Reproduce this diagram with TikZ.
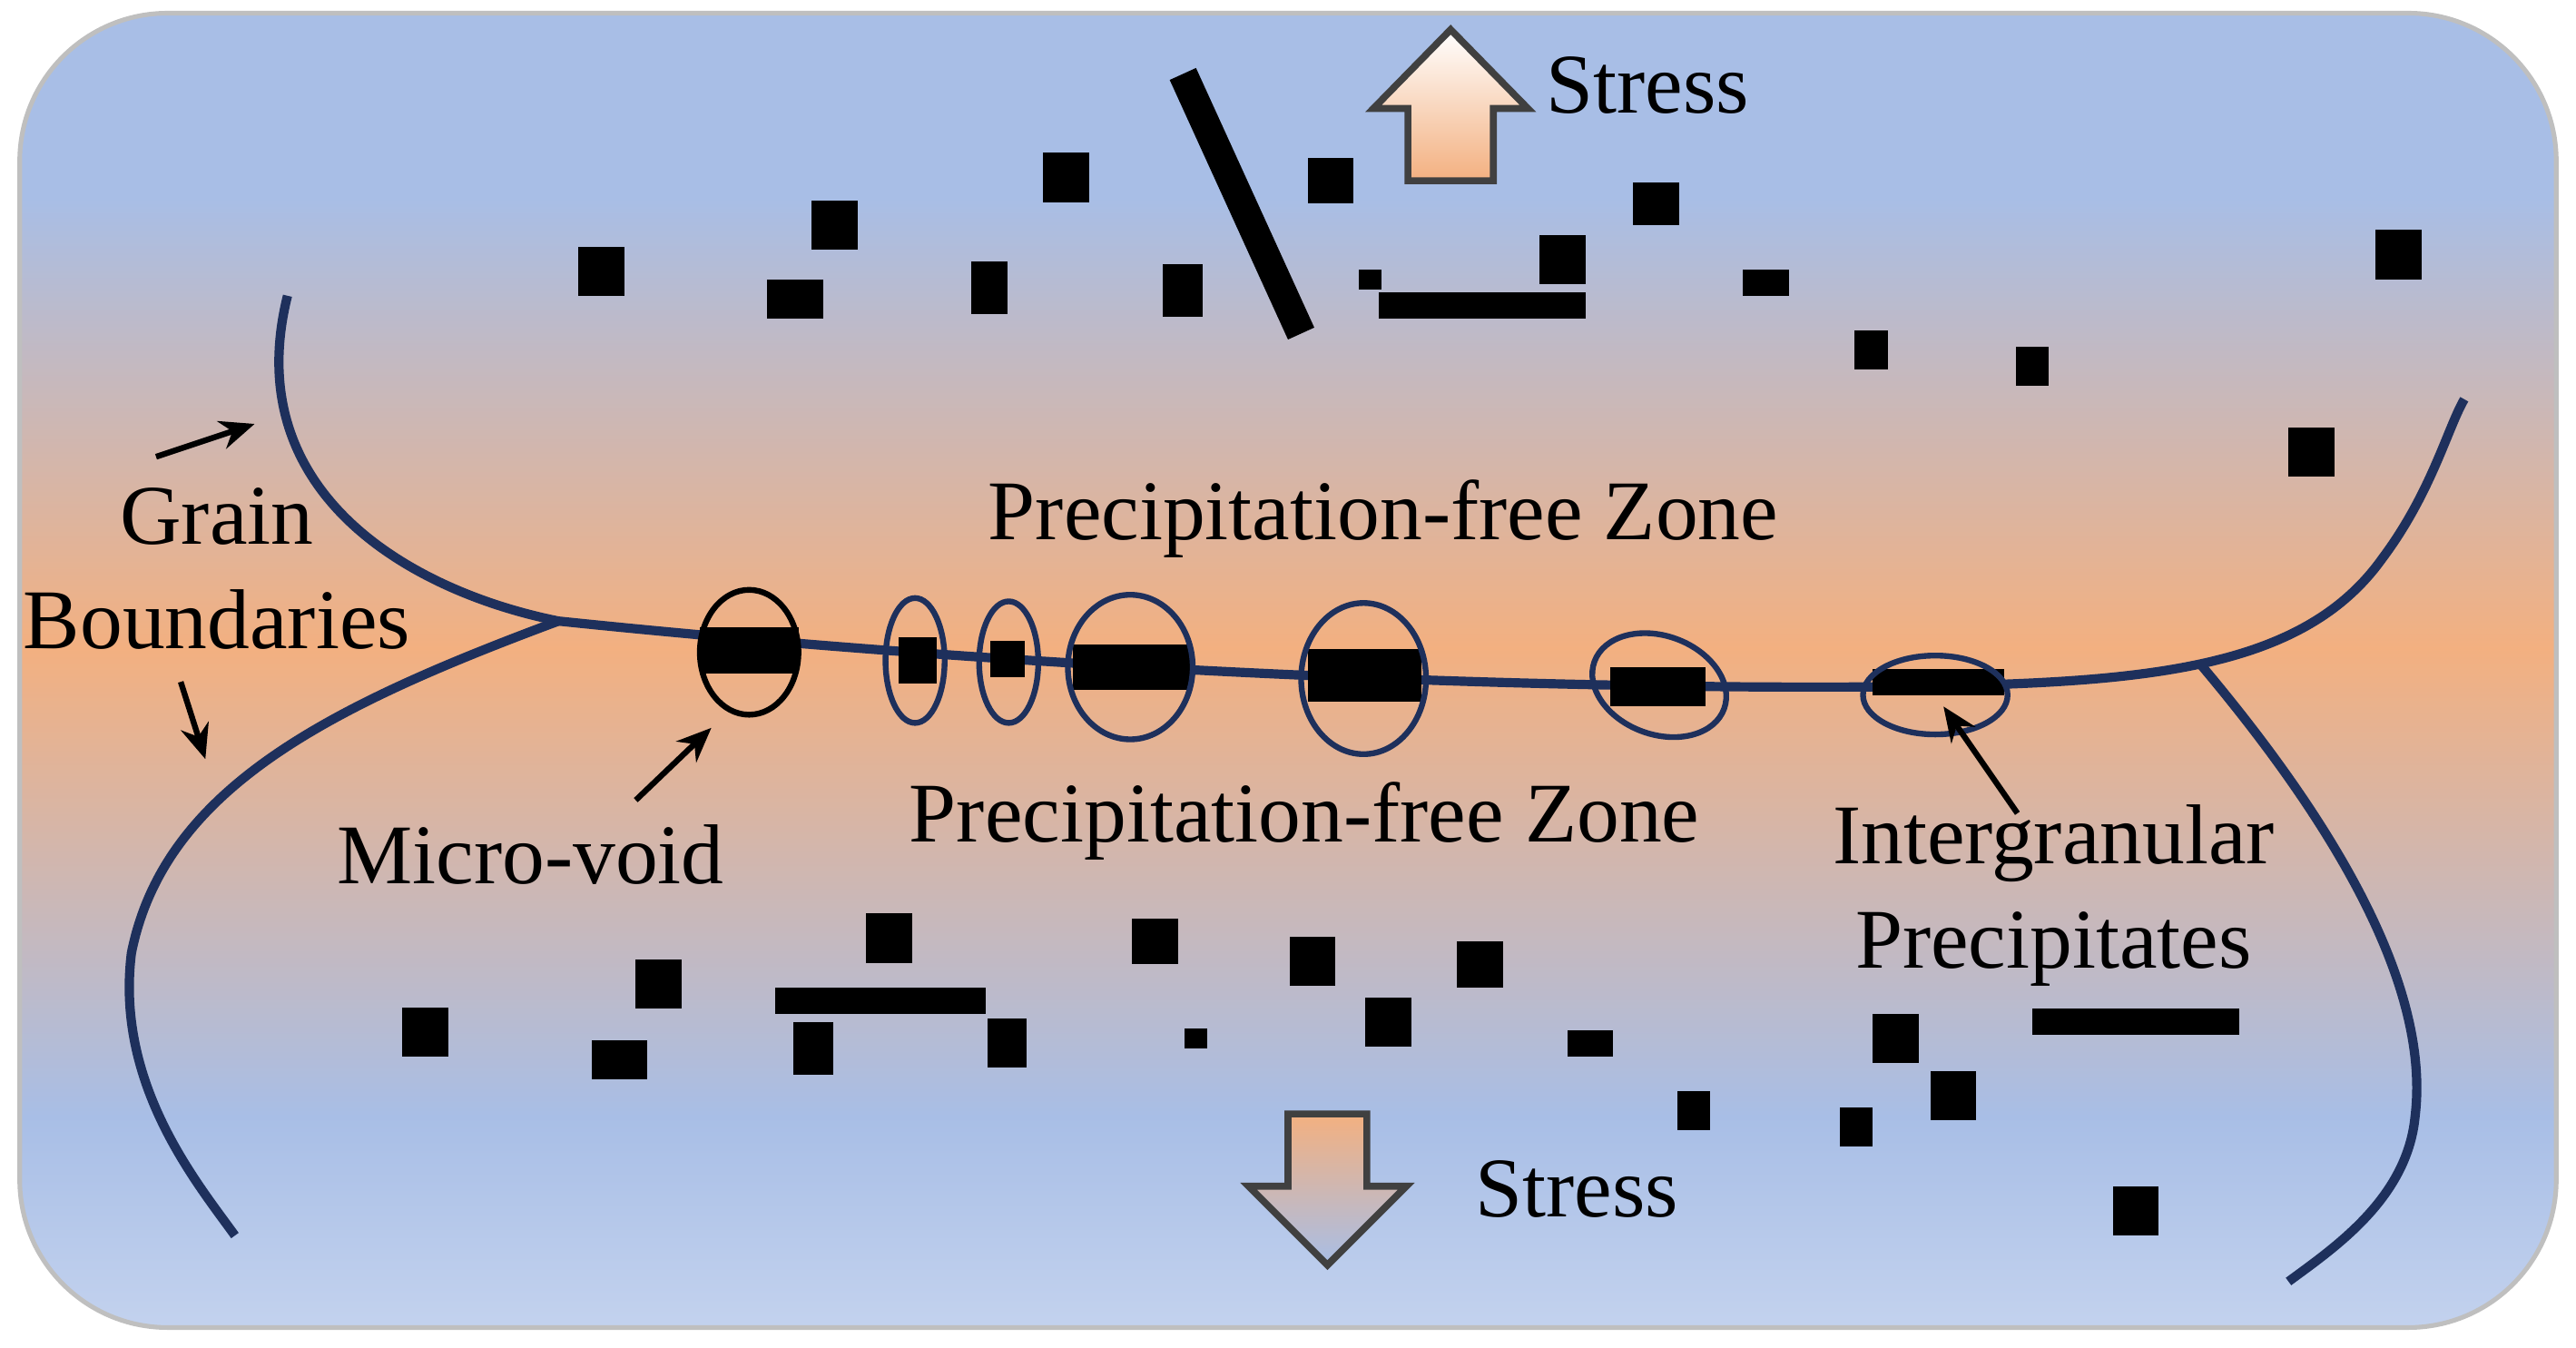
\documentclass[tikz,border=0pt]{standalone}
\usepackage{fontspec}
\setmainfont{Liberation Serif}
\usetikzlibrary{arrows.meta}
\definecolor{navy}{RGB}{30,48,92}
\definecolor{bluetop}{RGB}{168,190,230}
\definecolor{orng}{RGB}{243,176,128}
\definecolor{bluebot}{RGB}{195,210,238}
\begin{document}
\begin{tikzpicture}[x=0.01cm,y=-0.01cm,
 sq/.style={fill=black},
 gb/.style={draw=navy,line width=1.6pt},
 el/.style={draw=navy,line width=1pt},
 lab/.style={font=\fontsize{14.7}{18}\selectfont,align=center},
 pt/.style={-{Stealth[length=6pt,width=5pt]},line width=1pt}]
\useasboundingbox (0,0) rectangle (1568,820);
\begin{scope}
\clip[rounded corners=0.9cm] (12,8) rectangle (1556,808);
\shade[top color=bluetop,bottom color=orng] (12,120) rectangle (1556,395);
\fill[bluetop] (12,8) rectangle (1556,121);
\shade[top color=orng,bottom color=bluetop] (12,394) rectangle (1556,680);
\shade[top color=bluetop,bottom color=bluebot] (12,679) rectangle (1556,808);
\end{scope}
\draw[gray!50,line width=0.8pt,rounded corners=0.9cm] (12,8) rectangle (1556,808);
% grain boundaries
\coordinate (j1) at (340,378);
\coordinate (j2) at (1340,405);
\draw[gb] (175,180) .. controls (145,300) and (250,360) .. (j1)
 .. controls (600,405) and (900,420) .. (1150,418) .. controls (1300,416) and (1400,410) .. (1450,340) .. controls (1480,300) and (1490,260) .. (1500,243);
\draw[gb] (j1) .. controls (200,430) and (100,480) .. (80,580) .. controls (70,660) and (120,720) .. (143,752);
\draw[gb] (j2) .. controls (1420,500) and (1480,600) .. (1470,680) .. controls (1465,730) and (1420,760) .. (1393,780);
% slanted line
\draw[line width=5pt] (720,45) -- (792,203);
% squares
\foreach \x/\y/\w/\h in {366/165/28/30,508/137/28/30,484/182/34/24,602/175/22/32,649/108/28/30,720/177/24/32,810/110/28/28,834/170/14/12,951/158/28/30,902/186/126/16,1008/124/28/26,1075/172/28/16,1139/213/20/24,1237/223/20/24,1460/155/28/30,1407/275/28/30,
259/628/28/30,401/599/28/30,377/645/34/24,541/571/28/30,536/609/128/16,495/638/24/32,613/635/24/30,703/573/28/28,728/632/14/12,799/585/28/30,845/622/28/30,901/587/28/28,968/635/28/16,1031/676/20/24,1130/686/20/24,1154/632/28/30,1189/667/28/30,1300/622/126/16,1300/737/28/30}
 \fill[sq] (\x-\w/2,\y-\h/2) rectangle (\x+\w/2,\y+\h/2);
% precipitates with zones
\fill (426,382) rectangle (486,410);
\draw[line width=1pt] (456,397) ellipse [x radius=30,y radius=38];
\fill (547,388) rectangle (570,416);
\draw[el] (557,402) ellipse [x radius=18,y radius=38];
\fill (603,390) rectangle (624,412);
\draw[el] (614,403) ellipse [x radius=18,y radius=37];
\fill (653,392) rectangle (725,420);
\draw[el] (688,406) ellipse [x radius=38,y radius=44];
\fill (796,395) rectangle (865,427);
\draw[el] (830,413) ellipse [x radius=38,y radius=46];
\fill (980,406) rectangle (1038,430);
\draw[el,rotate around={-20:(1010,417)}] (1010,417) ellipse [x radius=42,y radius=30];
\fill (1140,407) rectangle (1220,423);
\draw[el] (1178,423) ellipse [x radius=44,y radius=24];
% stress arrows
\draw[black!75,line width=1.2pt,top color=white,bottom color=orng]
 (857,110) -- (857,66) -- (836,66) -- (883,18) -- (930,66) -- (909,66) -- (909,110) -- cycle;
\draw[black!75,line width=1.2pt,top color=orng,bottom color=bluetop]
 (784,678) -- (832,678) -- (832,722) -- (856,722) -- (808,770) -- (760,722) -- (784,722) -- cycle;
% labels
\node[lab] (s1) at (1003,52) {Stress};
\node[lab] (s2) at (960,724) {Stress};
\node[lab] (p1) at (842,316) {Precipitation-free Zone};
\node[lab] (p2) at (794,500) {Precipitation-free Zone};
\node[lab] (gbl) at (132,346) {Grain\\Boundaries};
\node[lab] (mv) at (323,520) {Micro-void};
\node[lab] (ig) at (1250,545) {Intergranular\\Precipitates};
\coordinate (a1s) at (95,278); \coordinate (a1e) at (155,258);
\coordinate (a2s) at (110,415); \coordinate (a2e) at (125,462);
\coordinate (a3s) at (387,487); \coordinate (a3e) at (433,443);
\coordinate (a4s) at (1228,495); \coordinate (a4e) at (1183,430);
\draw[pt] (a1s) -- (a1e);
\draw[pt] (a2s) -- (a2e);
\draw[pt] (a3s) -- (a3e);
\draw[pt] (a4s) -- (a4e);
\end{tikzpicture}
\end{document}
